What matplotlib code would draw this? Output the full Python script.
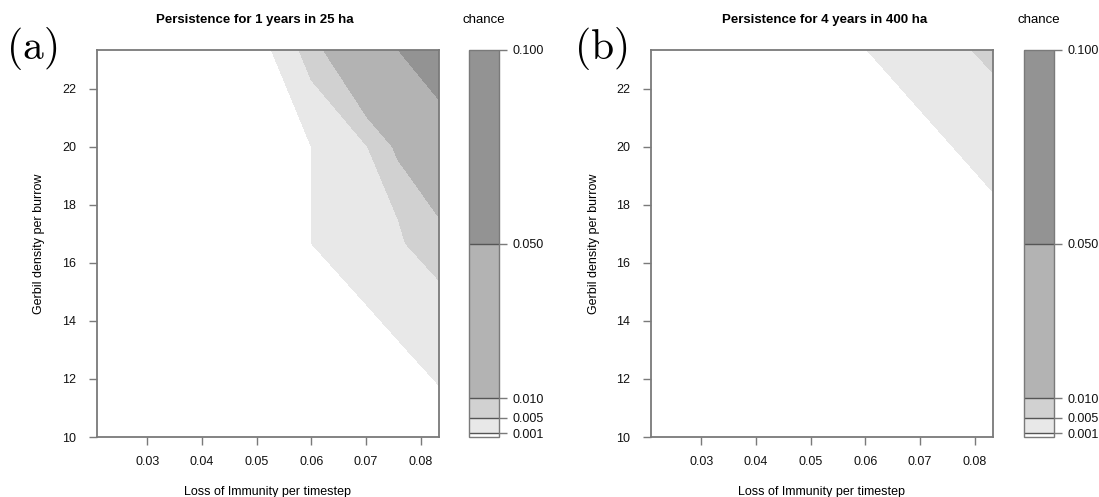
import matplotlib.pyplot as plt

plt.rcParams['font.family'] = ['Liberation Sans', 'DejaVu Sans']
plt.rcParams['mathtext.fontset'] = 'cm'

# simulation grid, panel (a): loss of immunity x gerbil density
loss_rate_a = [0.02083, 0.0527, 0.06, 0.0703, 0.0759, 0.0772, 0.08333]
density_a = [10, 13.33, 16.67, 20, 23.33]

# chance of persistence, one row per density value (bottom to top)
chance_a = [
    [0, 0, 0, 0, 0, 0, 0],
    [0, 0, 0, 0, 0.001, 0.00109, 0.00187],
    [0, 0, 0.001, 0.00282, 0.003, 0.005, 0.00693],
    [0, 0, 0.001, 0.005, 0.0112, 0.0116, 0.0184],
    [0, 0.001, 0.0068, 0.0218, 0.05, 0.0538, 0.0834],
]

# panel (b)
loss_rate_b = [0.02083, 0.06, 0.08333]
density_b = [10, 18.33, 23.33]
chance_b = [
    [0, 0, 0],
    [0, 0, 0.000893],
    [0, 0.000938, 0.00579],
]

levels = [0, 0.001, 0.005, 0.01, 0.05, 0.1]
band_colors = ['#ffffff', '#e8e8e8', '#d1d1d1', '#b3b3b3', '#939393']
x_ticks = [0.03, 0.04, 0.05, 0.06, 0.07, 0.08]
y_ticks = [10, 12, 14, 16, 18, 20, 22]

W, H = 1099, 497
fig = plt.figure(figsize=(W / 100, H / 100), dpi=100)

frame = '#7a7a7a'


def draw_panel(left, cb_left, xs, ys, z, title, tag, title_x, tag_x):
    ax = fig.add_axes([left / W, 1 - 437 / H, 342 / W, 387 / H])
    cs = ax.contourf(xs, ys, z, levels=levels, colors=band_colors)
    ax.set_xlim(0.02083, 0.08333)
    ax.set_ylim(10, 23.33)
    ax.set_xticks(x_ticks)
    ax.set_xticklabels(['%.2f' % v for v in x_ticks])
    ax.set_yticks(y_ticks)
    for s in ax.spines.values():
        s.set_color(frame)
        s.set_linewidth(1.3)
    ax.tick_params(direction='out', length=6, width=1, color=frame,
                   labelsize=9, labelcolor='#111111')
    ax.tick_params(axis='x', pad=8)
    ax.tick_params(axis='y', pad=9)
    ax.set_xlabel('Loss of Immunity per timestep', fontsize=9, labelpad=13)
    ax.set_ylabel('Gerbil density per burrow', fontsize=9, labelpad=12)

    cax = fig.add_axes([cb_left / W, 1 - 437 / H, 30 / W, 387 / H])
    cb = fig.colorbar(cs, cax=cax, spacing='proportional')
    cb.outline.set_edgecolor(frame)
    cb.outline.set_linewidth(1)
    cb.set_ticks(levels[1:])
    cb.set_ticklabels(['%.3f' % v for v in levels[1:]])
    cax.tick_params(direction='out', length=6, width=1, color=frame,
                    labelsize=9, labelcolor='#111111', pad=4)
    for lv in levels[1:-1]:
        cax.axhline(lv, color='#555555', lw=1)

    fig.text(title_x / W, 1 - 20 / H, title, ha='center', va='center',
             fontsize=9.5, fontweight='bold')
    fig.text((cb_left + 15) / W, 1 - 20 / H, 'chance', ha='center',
             va='center', fontsize=9.5)
    fig.text(tag_x / W, 1 - 48 / H, tag, ha='left', va='center', fontsize=30)


draw_panel(97, 469, loss_rate_a, density_a, chance_a,
           'Persistence for 1 years in 25 ha', r'$(\mathrm{a})$', 255, 6)
draw_panel(651, 1024, loss_rate_b, density_b, chance_b,
           'Persistence for 4 years in 400 ha', r'$(\mathrm{b})$', 825, 574)

fig.savefig('out.png', dpi=100)
